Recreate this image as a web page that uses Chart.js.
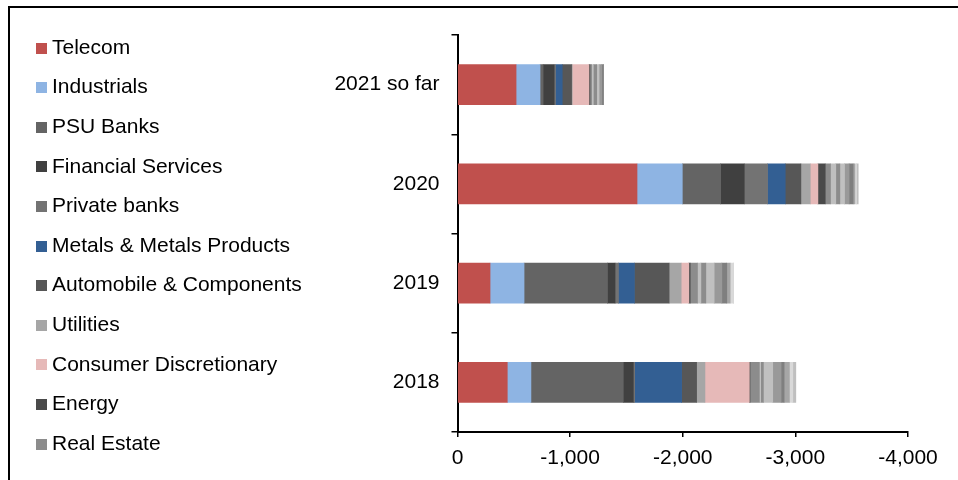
<!DOCTYPE html>
<html>
<head>
<meta charset="utf-8">
<script src="https://cdn.jsdelivr.net/npm/chart.js@4"></script>
<style>
    html, body { margin: 0; padding: 0; background: #fff; overflow: hidden; }
    #frame { position: absolute; left: 8px; top: 6px; width: 980px; height: 500px; border: 2px solid #000; }
    #chart { position: absolute; left: 0; top: 0; }
</style>
</head>
<body>
<div id="frame"></div>
<canvas id="chart" width="958" height="480"></canvas>
<script>
// categories (top to bottom)
var years = ['2021 so far', '2020', '2019', '2018'];

// series values (outflows, negative)
var telecom        = [-520, -1594, -289, -442];
var industrials    = [-213, -402, -302, -210];
var psuBanks       = [-27, -340, -740, -820];
var finServices    = [-98, -210, -68, -89];
var privateBanks   = [-12, -207, -30, -12];
var metals         = [-60, -157, -142, -417];
var auto           = [-83, -139, -308, -133];
var utilities      = [-6, -83, -107, -74];
var consumerDisc   = [-148, -68, -68, -394];
var energy         = [-9, -65, -12, -6];
var realEstate     = [-15, -47, -65, -83];
// smaller sectors, not in the legend
var other1 = [-15, -47, -30, -12];
var other2 = [-30, -36, -44, -24];
var other3 = [-21, -41, -74, -83];
var other4 = [-24, -41, -68, -74];
var other5 = [-15, -36, -44, -27];
var other6 = [0, -15, -30, -47];
var other7 = [0, -15, -30, -30];
var other8 = [0, -15, 0, -27];

var xTicks = [0, -1000, -2000, -3000, -4000];

var series = [
    {label: 'Telecom', data: telecom, color: '#C0504D'},
    {label: 'Industrials', data: industrials, color: '#8EB4E3'},
    {label: 'PSU Banks', data: psuBanks, color: '#646464'},
    {label: 'Financial Services', data: finServices, color: '#404040'},
    {label: 'Private banks', data: privateBanks, color: '#737373'},
    {label: 'Metals & Metals Products', data: metals, color: '#335F93'},
    {label: 'Automobile & Components', data: auto, color: '#575757'},
    {label: 'Utilities', data: utilities, color: '#A6A6A6'},
    {label: 'Consumer Discretionary', data: consumerDisc, color: '#E6B9B8'},
    {label: 'Energy', data: energy, color: '#4A4A4A'},
    {label: 'Real Estate', data: realEstate, color: '#8C8C8C'},
    {label: 'Other 1', data: other1, color: '#BFBFBF'},
    {label: 'Other 2', data: other2, color: '#8C8C8C'},
    {label: 'Other 3', data: other3, color: '#C0C0C0'},
    {label: 'Other 4', data: other4, color: '#999999'},
    {label: 'Other 5', data: other5, color: '#7F7F7F'},
    {label: 'Other 6', data: other6, color: '#A6A6A6'},
    {label: 'Other 7', data: other7, color: '#D9D9D9'},
    {label: 'Other 8', data: other8, color: '#BFBFBF'}
];
var legendCount = 11;

// small square swatches for the legend
function swatch(color) {
    var c = document.createElement('canvas');
    c.width = 11;
    c.height = 11;
    var g = c.getContext('2d');
    g.fillStyle = color;
    g.fillRect(0, 0, 11, 11);
    return c;
}

Chart.defaults.font.family = "'Liberation Sans', Arial, sans-serif";
Chart.defaults.font.size = 21;
Chart.defaults.color = '#000';

new Chart(document.getElementById('chart').getContext('2d'), {
    type: 'bar',
    data: {
        labels: years,
        datasets: series.map(function (s) {
            return {
                label: s.label,
                data: s.data,
                backgroundColor: s.color,
                borderWidth: 0,
                barThickness: 40
            };
        })
    },
    options: {
        indexAxis: 'y',
        responsive: false,
        animation: false,
        layout: {padding: {left: 22.9, top: 18.9, bottom: 4, right: 50}},
        scales: {
            x: {
                stacked: true,
                reverse: true,
                min: -4000,
                max: 0,
                afterBuildTicks: function (s) {
                    s.ticks = xTicks.map(function (v) { return {value: v}; });
                },
                grid: {drawOnChartArea: false, tickLength: 5, color: '#000', lineWidth: 1.5},
                border: {display: true, color: '#000', width: 2},
                ticks: {padding: 9, maxRotation: 0},
                afterFit: function (s) { s.height = 44; }
            },
            xTop: {
                type: 'linear',
                axis: 'x',
                position: 'top',
                grid: {display: false},
                border: {display: false},
                ticks: {display: false},
                afterFit: function (s) { s.height = 16.1; }
            },
            y: {
                stacked: true,
                grid: {drawOnChartArea: false, tickLength: 6, color: '#000', lineWidth: 1.5},
                border: {display: true, color: '#000', width: 2},
                ticks: {padding: 12},
                afterFit: function (s) {
                    // axis line sits at x = 457.5
                    s.width = 457.5 - 22.9 - s.chart.legend.width;
                }
            }
        },
        plugins: {
            tooltip: {enabled: false},
            legend: {
                position: 'left',
                align: 'start',
                maxWidth: 420,
                labels: {
                    usePointStyle: true,
                    pointStyleWidth: 0.01,
                    padding: 18.6,
                    color: '#000',
                    generateLabels: function (chart) {
                        return series.slice(0, legendCount).map(function (s, i) {
                            return {
                                text: s.label,
                                pointStyle: swatch(s.color),
                                fillStyle: s.color,
                                strokeStyle: s.color,
                                lineWidth: 0,
                                hidden: false,
                                datasetIndex: i,
                                fontColor: '#000'
                            };
                        });
                    }
                }
            }
        }
    }
});
</script>
</body>
</html>
